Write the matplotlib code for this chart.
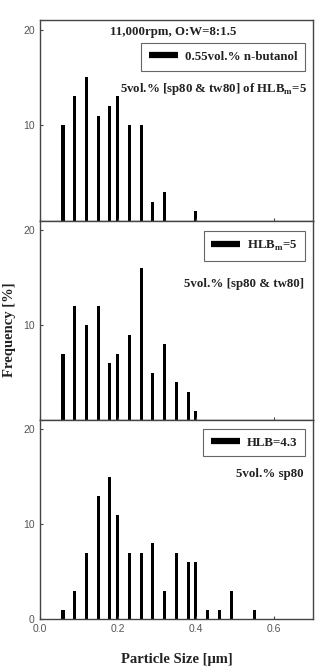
import matplotlib
matplotlib.use("Agg")
import matplotlib.pyplot as plt
from matplotlib.lines import Line2D

plt.rcParams['mathtext.fontset'] = 'custom'
plt.rcParams['mathtext.rm'] = 'Liberation Serif:bold'
plt.rcParams['mathtext.bf'] = 'Liberation Serif:bold'

# Data
sizes_top = [0.06, 0.09, 0.12, 0.15, 0.18, 0.20, 0.23, 0.26, 0.29, 0.32, 0.40]
freq_top = [10, 13, 15, 11, 12, 13, 10, 10, 2, 3, 1]

sizes_mid = [0.06, 0.09, 0.12, 0.15, 0.18, 0.20, 0.23, 0.26, 0.29, 0.32, 0.35, 0.38, 0.40]
freq_mid = [7, 12, 10, 12, 6, 7, 9, 16, 5, 8, 4, 3, 1]

sizes_bot = [0.06, 0.09, 0.12, 0.15, 0.18, 0.20, 0.23, 0.26, 0.29, 0.32, 0.35, 0.38, 0.40,
             0.43, 0.46, 0.49, 0.55]
freq_bot = [1, 3, 7, 13, 15, 11, 7, 7, 8, 3, 7, 6, 6, 1, 1, 3, 1]

legend_labels = ['0.55vol.% n-butanol', r'HLB$_\mathbf{m}$=5', 'HLB=4.3']
notes = [r'5vol.% [sp80 & tw80] of HLB$_\mathbf{m}$=5', '5vol.% [sp80 & tw80]', '5vol.% sp80']
title_text = '11,000rpm, O:W=8:1.5'

W, H = 315, 669
fig = plt.figure(figsize=(W / 100, H / 100), dpi=100)
left = 39.5 / W
width = (313.2 - 39.5) / W
tops = [20, 220.7, 420]
bots = [220.7, 420, 619]

serif = 'Liberation Serif'
sans = 'Liberation Sans'
spine_col = '#444444'
tick_col = '#555555'
txt_col = '#222222'
fs = 9.3

leg_anchor_y = [0.885, 0.948, 0.955]
note_y = [0.656, 0.682, 0.729]
note_x = [0.977, 0.966, 0.966]

datasets = [(sizes_top, freq_top), (sizes_mid, freq_mid), (sizes_bot, freq_bot)]
axes = []
for i, (xs, ys) in enumerate(datasets):
    b = 1 - bots[i] / H
    h = (bots[i] - tops[i]) / H
    ax = fig.add_axes([left, b, width, h])
    axes.append(ax)
    ax.bar(xs, ys, width=0.008, color='black', align='center')
    ax.set_xlim(0, 0.7)
    ax.set_ylim(0, 21)
    for s in ax.spines.values():
        s.set_color(spine_col)
        s.set_linewidth(1.0)
    ax.tick_params(direction='in', length=2.5, width=0.8, colors=spine_col,
                   labelcolor=tick_col, labelsize=7.5)
    if i < 2:
        ax.set_yticks([10, 20])
        ax.tick_params(axis='x', labelbottom=False)
    else:
        ax.set_yticks([0, 10, 20])
    ax.set_xticks([0.0, 0.2, 0.4, 0.6])
    ax.set_xticklabels(['0.0', '0.2', '0.4', '0.6'], family=sans)
    ax.set_yticklabels([str(int(t)) for t in ax.get_yticks()], family=sans)

    handle = Line2D([], [], color='black', lw=4.5, solid_capstyle='butt')
    leg = ax.legend([handle], [legend_labels[i]], loc='upper right',
                    bbox_to_anchor=(0.97, leg_anchor_y[i]), borderaxespad=0,
                    prop={'family': serif, 'weight': 'bold', 'size': fs},
                    handlelength=2.2, handletextpad=0.55, borderpad=0.6,
                    fancybox=False, framealpha=1)
    leg.get_frame().set_edgecolor('#666666')
    leg.get_frame().set_linewidth(0.8)
    for t in leg.get_texts():
        t.set_color(txt_col)

    ax.text(note_x[i], note_y[i], notes[i], transform=ax.transAxes, ha='right', va='center',
            family=serif, weight='bold', size=fs, color=txt_col)

axes[0].text(0.488, 0.94, title_text, transform=axes[0].transAxes, ha='center',
             va='center', family=serif, weight='bold', size=fs, color=txt_col)

fig.text(10 / W, 1 - 330 / H, 'Frequency [%]', rotation=90, ha='center', va='center',
         family=serif, weight='bold', size=10.5, color=txt_col)
fig.text(177 / W, 1 - 659 / H, 'Particle Size [μm]', ha='center', va='center',
         family=serif, weight='bold', size=10.5, color=txt_col)

fig.savefig('out.png', dpi=100)
